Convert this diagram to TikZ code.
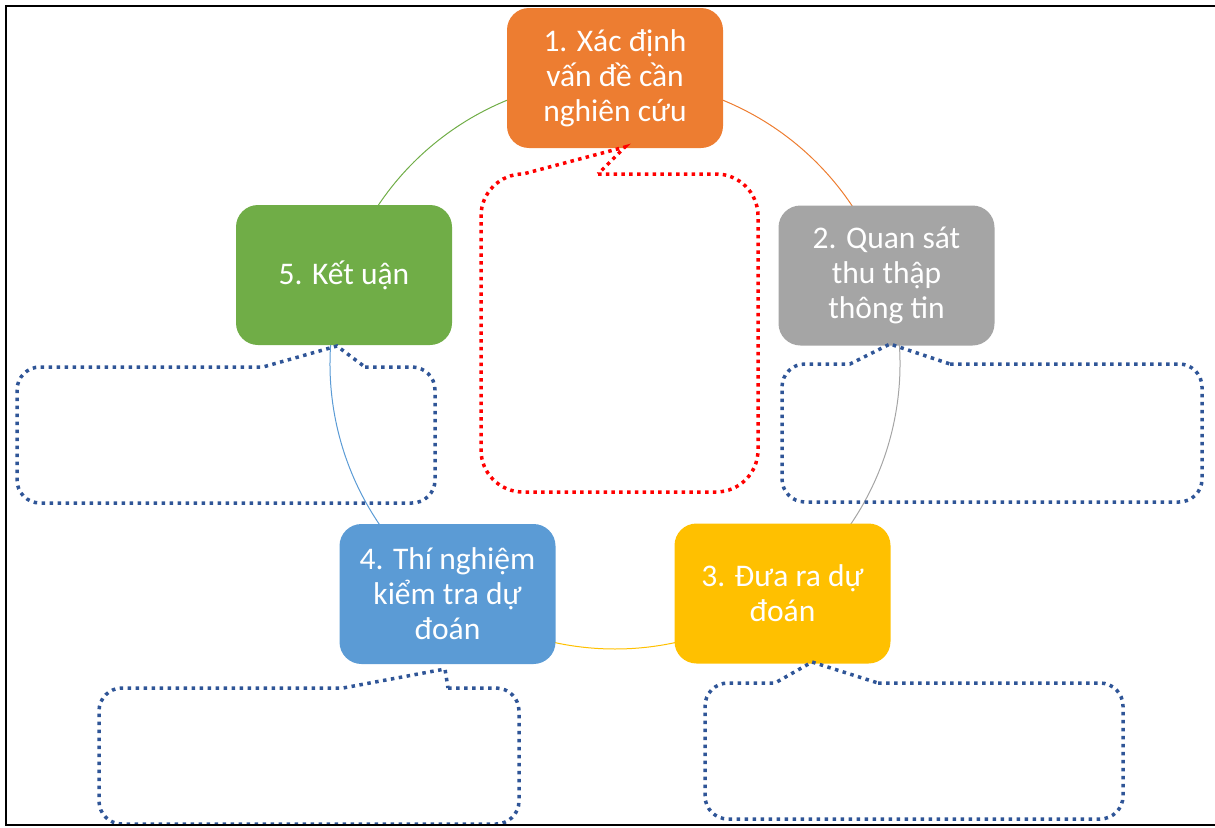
\documentclass[tikz,border=0pt]{standalone}
\usepackage{fontspec}
\setmainfont{Carlito}
\usetikzlibrary{calc}
\definecolor{cOrange}{HTML}{ED7D31}
\definecolor{cGray}{HTML}{A5A5A5}
\definecolor{cYellow}{HTML}{FFC000}
\definecolor{cBlue}{HTML}{5B9BD5}
\definecolor{cGreen}{HTML}{70AD47}
\definecolor{cDot}{HTML}{2F5597}
\tikzset{
  stepbox/.style={rounded corners=22pt, minimum width=216pt, minimum height=140pt,
    text=white, align=center, font=\fontsize{31.5}{35}\selectfont, inner sep=0pt},
  cyc/.style={line width=1pt},
  bluecall/.style={draw=cDot, line width=3.5pt, dash pattern=on 3.5pt off 4.5pt},
  redcall/.style={draw=red, line width=3.5pt, dash pattern=on 3.5pt off 4.3pt},
  frameline/.style={line width=2pt, draw=black}
}
\begin{document}
\begin{tikzpicture}[x=1pt,y=-1pt]
\useasboundingbox (0,0) rectangle (1215,827);
% cycle circle segments
\coordinate (O) at (615,364);
\draw[cyc,draw=cOrange] ($(O)+(-90:285)$) arc[start angle=-90,end angle=-18,radius=285];
\draw[cyc,draw=cGray] ($(O)+(-18:285)$) arc[start angle=-18,end angle=54,radius=285];
\draw[cyc,draw=cYellow] ($(O)+(54:285)$) arc[start angle=54,end angle=126,radius=285];
\draw[cyc,draw=cBlue] ($(O)+(126:285)$) arc[start angle=126,end angle=198,radius=285];
\draw[cyc,draw=cGreen] ($(O)+(198:285)$) arc[start angle=198,end angle=270,radius=285];
% steps
\node[stepbox,fill=cOrange] (n1) at (615,78) {1. Xác định\\vấn đề cần\\nghiên cứu};
\node[stepbox,fill=cGray] (n2) at (886.5,275.5) {2. Quan sát\\thu thập\\thông tin};
\node[stepbox,fill=cYellow] (n3) at (782.5,593.5) {3. Đưa ra dự\\đoán};
\node[stepbox,fill=cBlue] (n4) at (447.5,594) {4. Thí nghiệm\\kiểm tra dự\\đoán};
\node[stepbox,fill=cGreen] (n5) at (344,275) {5. Kết uận};
% callouts
\draw[redcall] (598,174) -- (716,174) arc[start angle=-90,end angle=0,radius=42]
  -- (758,450) arc[start angle=0,end angle=90,radius=42]
  -- (523,492) arc[start angle=90,end angle=180,radius=42]
  -- (481,216) arc[start angle=180,end angle=270,radius=42]
  -- (625,147) -- cycle;
\draw[bluecall] (365,367) -- (412,367) arc[start angle=-90,end angle=0,radius=23]
  -- (435,480) arc[start angle=0,end angle=90,radius=23]
  -- (40,503) arc[start angle=90,end angle=180,radius=23]
  -- (17,390) arc[start angle=180,end angle=270,radius=23]
  -- (263,367) -- (337,346) -- cycle;
\draw[bluecall] (950,364) -- (1179,364) arc[start angle=-90,end angle=0,radius=23]
  -- (1202,479) arc[start angle=0,end angle=90,radius=23]
  -- (805,502) arc[start angle=90,end angle=180,radius=23]
  -- (782,387) arc[start angle=180,end angle=270,radius=23]
  -- (850,364) -- (890,344) -- cycle;
\draw[bluecall] (448,688) -- (496,688) arc[start angle=-90,end angle=0,radius=23]
  -- (519,801) arc[start angle=0,end angle=90,radius=23]
  -- (122,824) arc[start angle=90,end angle=180,radius=23]
  -- (99,711) arc[start angle=180,end angle=270,radius=23]
  -- (343,688) -- (445,669) -- cycle;
\draw[bluecall] (878,683) -- (1100,683) arc[start angle=-90,end angle=0,radius=23]
  -- (1123,796) arc[start angle=0,end angle=90,radius=23]
  -- (728,819) arc[start angle=90,end angle=180,radius=23]
  -- (705,706) arc[start angle=180,end angle=270,radius=23]
  -- (775,683) -- (812,662) -- cycle;
% frame
\coordinate (ftr) at (1216,6);
\coordinate (ftl) at (6,6);
\coordinate (fbl) at (6,825);
\coordinate (fbr) at (1216,825);
\draw[frameline] (ftr) -- (ftl) -- (fbl) -- (fbr);
\end{tikzpicture}
\end{document}
